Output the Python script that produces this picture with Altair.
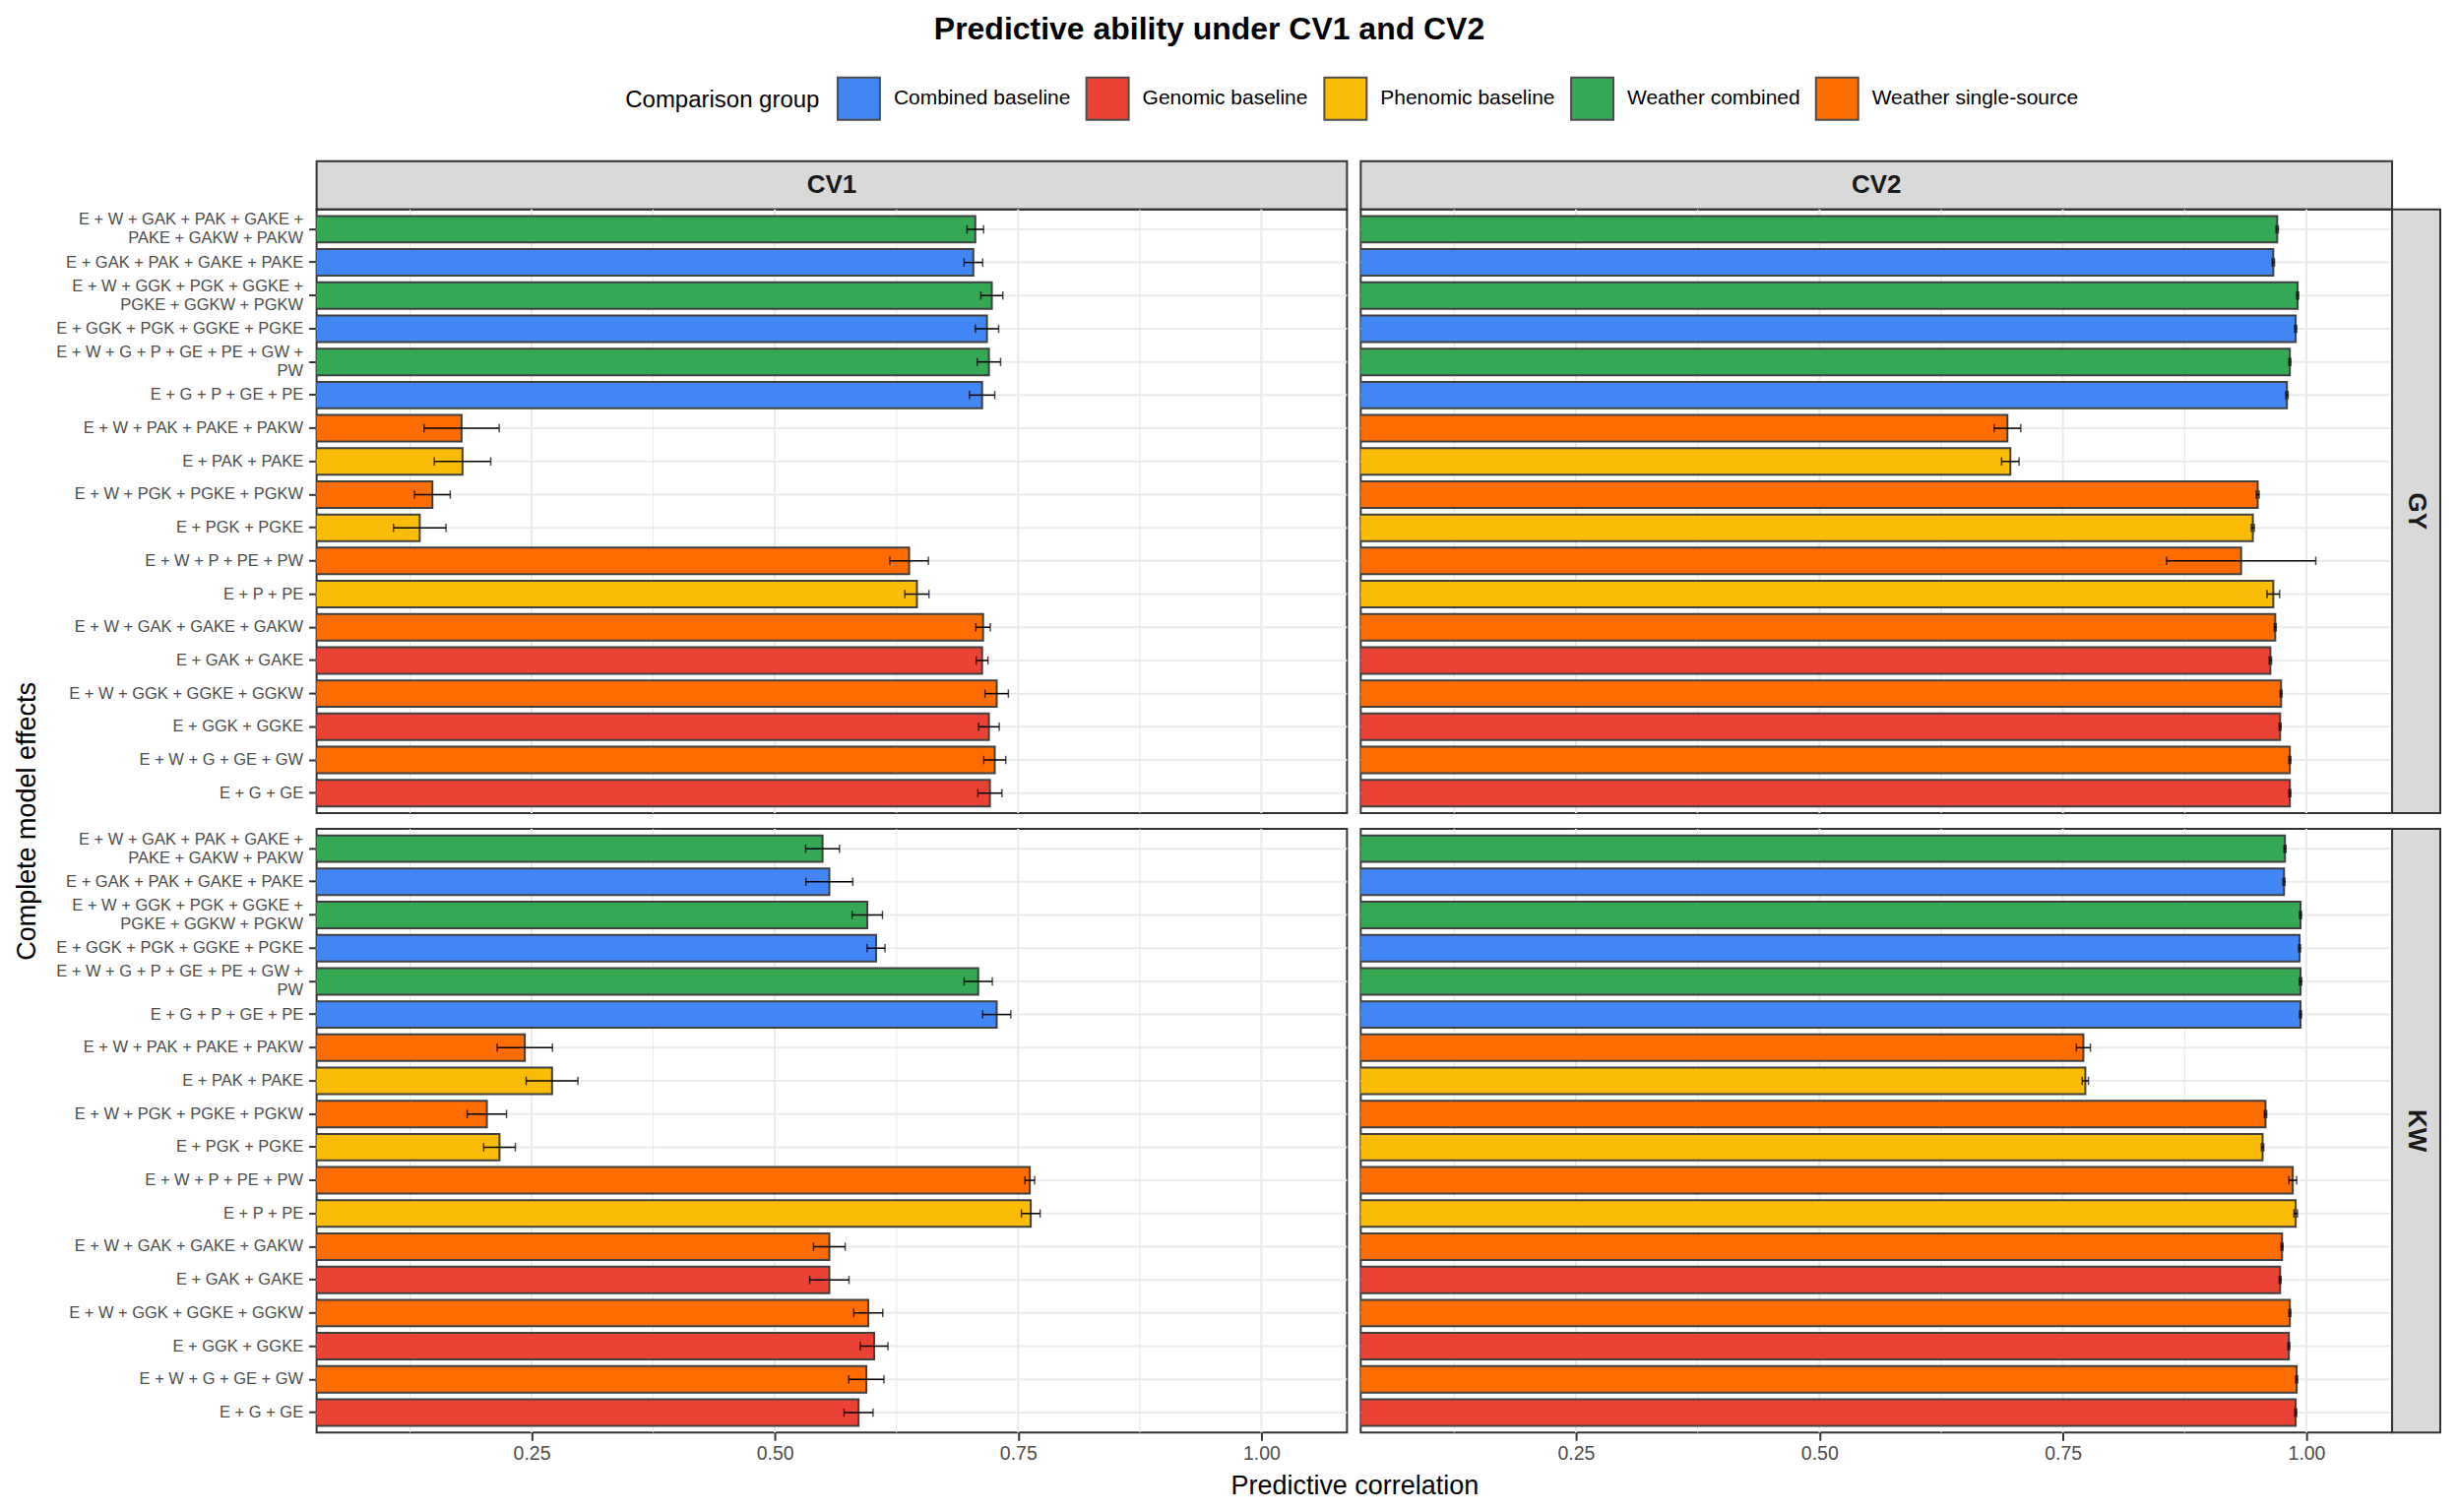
import altair as alt
import pandas as pd

FONT = "Liberation Sans"

models = [
    "E + W + GAK + PAK + GAKE +\nPAKE + GAKW + PAKW",
    "E + GAK + PAK + GAKE + PAKE",
    "E + W + GGK + PGK + GGKE +\nPGKE + GGKW + PGKW",
    "E + GGK + PGK + GGKE + PGKE",
    "E + W + G + P + GE + PE + GW +\nPW",
    "E + G + P + GE + PE",
    "E + W + PAK + PAKE + PAKW",
    "E + PAK + PAKE",
    "E + W + PGK + PGKE + PGKW",
    "E + PGK + PGKE",
    "E + W + P + PE + PW",
    "E + P + PE",
    "E + W + GAK + GAKE + GAKW",
    "E + GAK + GAKE",
    "E + W + GGK + GGKE + GGKW",
    "E + GGK + GGKE",
    "E + W + G + GE + GW",
    "E + G + GE",
]
model_groups = [
    "Weather combined", "Combined baseline", "Weather combined", "Combined baseline",
    "Weather combined", "Combined baseline", "Weather single-source", "Phenomic baseline",
    "Weather single-source", "Phenomic baseline", "Weather single-source", "Phenomic baseline",
    "Weather single-source", "Genomic baseline", "Weather single-source", "Genomic baseline",
    "Weather single-source", "Genomic baseline",
]
groups = ["Combined baseline", "Genomic baseline", "Phenomic baseline",
          "Weather combined", "Weather single-source"]
group_colors = ["#4285F4", "#EA4335", "#FBBC05", "#34A853", "#FF6D00"]

# GY trait
cv1_gy_mean = [0.706, 0.704, 0.723, 0.718, 0.720, 0.713, 0.178, 0.179, 0.148, 0.135,
               0.638, 0.646, 0.714, 0.713, 0.728, 0.720, 0.726, 0.721]
cv1_gy_sd = [0.0085, 0.0096, 0.0113, 0.012, 0.012, 0.013, 0.0386, 0.029, 0.0184, 0.027,
             0.0198, 0.0124, 0.0074, 0.006, 0.012, 0.0106, 0.0113, 0.0124]
cv2_gy_mean = [0.970, 0.966, 0.991, 0.989, 0.983, 0.980, 0.693, 0.696, 0.950, 0.945,
               0.933, 0.966, 0.968, 0.963, 0.974, 0.973, 0.983, 0.983]
cv2_gy_sd = [0.0012, 0.0012, 0.001, 0.001, 0.001, 0.0012, 0.0137, 0.009, 0.0015, 0.0015,
             0.0766, 0.0065, 0.001, 0.0012, 0.001, 0.001, 0.001, 0.001]
# KW trait
cv1_kw_mean = [0.549, 0.556, 0.595, 0.604, 0.709, 0.728, 0.243, 0.271, 0.204, 0.217,
               0.762, 0.763, 0.556, 0.556, 0.596, 0.602, 0.594, 0.586]
cv1_kw_sd = [0.0174, 0.0241, 0.0156, 0.0092, 0.0145, 0.0145, 0.0284, 0.0266, 0.0202, 0.0163,
             0.005, 0.0096, 0.0163, 0.0202, 0.0149, 0.0142, 0.0181, 0.0149]
cv2_kw_mean = [0.978, 0.977, 0.994, 0.993, 0.994, 0.994, 0.771, 0.773, 0.958, 0.955,
               0.986, 0.989, 0.975, 0.973, 0.983, 0.982, 0.990, 0.989]
cv2_kw_sd = [0.001, 0.001, 0.001, 0.001, 0.0012, 0.001, 0.0072, 0.0032, 0.0012, 0.0012,
             0.004, 0.0018, 0.001, 0.001, 0.001, 0.001, 0.001, 0.001]

major_ticks = [0.25, 0.50, 0.75, 1.00]
minor_ticks = [0.125, 0.375, 0.625, 0.875]
x_domain = [0.029, 1.088]

PW1, PW2, PH1, PH2 = 1048, 1049, 614, 614
STRIP = 49
GAPX, GAPY = 14, 16
LINE_H = 19

xscale = alt.Scale(domain=x_domain, nice=False, zero=False)
yscale = alt.Scale(domain=models, paddingInner=0.2, paddingOuter=0.2)


def make_panel(mean, sd, left, bottom, ytitle, height):
    df = pd.DataFrame({"model": models, "group": model_groups, "mean": mean, "sd": sd})
    if bottom:
        xaxis = alt.Axis(values=major_ticks, format=".2f", grid=False, domain=False,
                         ticks=True, tickSize=8, tickWidth=2, tickColor="#333333",
                         labelFontSize=19.5, labelColor="#4D4D4D", labelPadding=4,
                         labelFont=FONT,
                         title="Predictive correlation" if left else None,
                         titleFontSize=27, titleFontWeight="normal", titleColor="black",
                         titleFont=FONT,
                         titleX=(PW1 + GAPX + PW2) / 2, titleY=54,
                         titleAlign="center", titleBaseline="middle")
    else:
        xaxis = None
    if left:
        yaxis = alt.Axis(labelExpr="split(datum.label, '\\n')", labelFontSize=16.5,
                         labelColor="#4D4D4D", labelLineHeight=LINE_H, labelLimit=600,
                         labelOffset={"condition": {"test": "indexof(datum.value, '\\n') >= 0",
                                                    "value": -LINE_H / 2},
                                      "value": 0},
                         labelPadding=6, labelFont=FONT,
                         tickSize=8, tickWidth=2, tickColor="#333333",
                         domain=False, grid=False,
                         title=ytitle, titleFontSize=27, titleFontWeight="normal",
                         titleColor="black", titleFont=FONT,
                         titleX=-294, titleY=(PH1 + GAPY + PH2) / 2, titleAngle=270,
                         titleAlign="center", titleBaseline="middle")
    else:
        yaxis = None

    def X(field):
        return alt.X(field, type="quantitative", scale=xscale, axis=xaxis)

    def Y():
        return alt.Y("model:N", scale=yscale, axis=yaxis)

    minor = alt.Chart(pd.DataFrame({"v": minor_ticks})).mark_rule(
        color="#EBEBEB", strokeWidth=1.1).encode(x=X("v"))
    major = alt.Chart(pd.DataFrame({"v": major_ticks})).mark_rule(
        color="#EBEBEB", strokeWidth=2).encode(x=X("v"))
    base = alt.Chart(df).transform_calculate(
        lo="datum.mean - datum.sd", hi="datum.mean + datum.sd")
    hgrid = base.mark_rule(color="#EBEBEB", strokeWidth=2).encode(y=Y())
    bars = base.mark_bar(stroke="#404040", strokeWidth=2, clip=True).encode(
        x=X("mean"), y=Y(),
        fill=alt.Fill("group:N", scale=alt.Scale(domain=groups, range=group_colors),
                      legend=alt.Legend(title="Comparison group")))
    err = base.mark_rule(color="black", strokeWidth=1.5, clip=True).encode(
        x=X("lo"), x2="hi:Q", y=Y())
    cap_lo = base.mark_tick(color="black", size=8.5, thickness=1.5, clip=True).encode(
        x=X("lo"), y=Y())
    cap_hi = base.mark_tick(color="black", size=8.5, thickness=1.5, clip=True).encode(
        x=X("hi"), y=Y())
    return alt.layer(minor, major, hgrid, bars, err, cap_lo, cap_hi).properties(
        width=PW1 if left else PW2, height=height)


def col_strip(label, width):
    return alt.Chart(pd.DataFrame({"lab": [label]})).mark_text(
        font=FONT, fontSize=26, fontWeight="bold", color="#1A1A1A").encode(
        text="lab:N").properties(
        width=width, height=STRIP,
        view=alt.ViewBackground(fill="#D9D9D9", stroke="#333333", strokeWidth=2))


def row_strip(label, height):
    return alt.Chart(pd.DataFrame({"lab": [label]})).mark_text(
        font=FONT, fontSize=26, fontWeight="bold", color="#1A1A1A", angle=90).encode(
        text="lab:N").properties(
        width=STRIP, height=height,
        view=alt.ViewBackground(fill="#D9D9D9", stroke="#333333", strokeWidth=2))


def spacer(w, h):
    return alt.Chart(pd.DataFrame({"s": [0]})).mark_point(opacity=0).properties(
        width=w, height=h, view=alt.ViewBackground(stroke="transparent"))


cells = [
    col_strip("CV1", PW1), spacer(GAPX, STRIP), col_strip("CV2", PW2), spacer(STRIP, STRIP),
    make_panel(cv1_gy_mean, cv1_gy_sd, True, False, "Complete model effects", PH1),
    spacer(GAPX, PH1),
    make_panel(cv2_gy_mean, cv2_gy_sd, False, False, None, PH1),
    row_strip("GY", PH1),
    spacer(PW1, GAPY), spacer(GAPX, GAPY), spacer(PW2, GAPY), spacer(STRIP, GAPY),
    make_panel(cv1_kw_mean, cv1_kw_sd, True, True, None, PH2),
    spacer(GAPX, PH2),
    make_panel(cv2_kw_mean, cv2_kw_sd, False, True, None, PH2),
    row_strip("KW", PH2),
]

chart = alt.concat(*cells, columns=4, spacing=0, bounds="flush").properties(
    title=alt.TitleParams("Predictive ability under CV1 and CV2", font=FONT,
                          fontSize=32, fontWeight="bold", color="black",
                          anchor="middle", dx=-18, offset=31),
    padding={"left": 5, "top": 5, "right": 8, "bottom": 8},
).configure(font=FONT).configure_view(
    stroke="#333333", strokeWidth=2
).configure_legend(
    orient="none", direction="horizontal", legendX=314, legendY=-86,
    titleOrient="left", titleFontSize=24, titleFontWeight="normal", titleColor="black",
    titleFont=FONT, titleAnchor="middle", titleBaseline="middle", titlePadding=17,
    titleLimit=500,
    labelFontSize=21, labelColor="black", labelFont=FONT, labelOffset=13,
    columnPadding=12, symbolType="square", symbolSize=1849,
    symbolStrokeColor="#4D4D4D", symbolStrokeWidth=2, symbolOpacity=1,
    labelLimit=400
)

chart.save("out.html", embed_options={"renderer": "svg", "actions": False})
